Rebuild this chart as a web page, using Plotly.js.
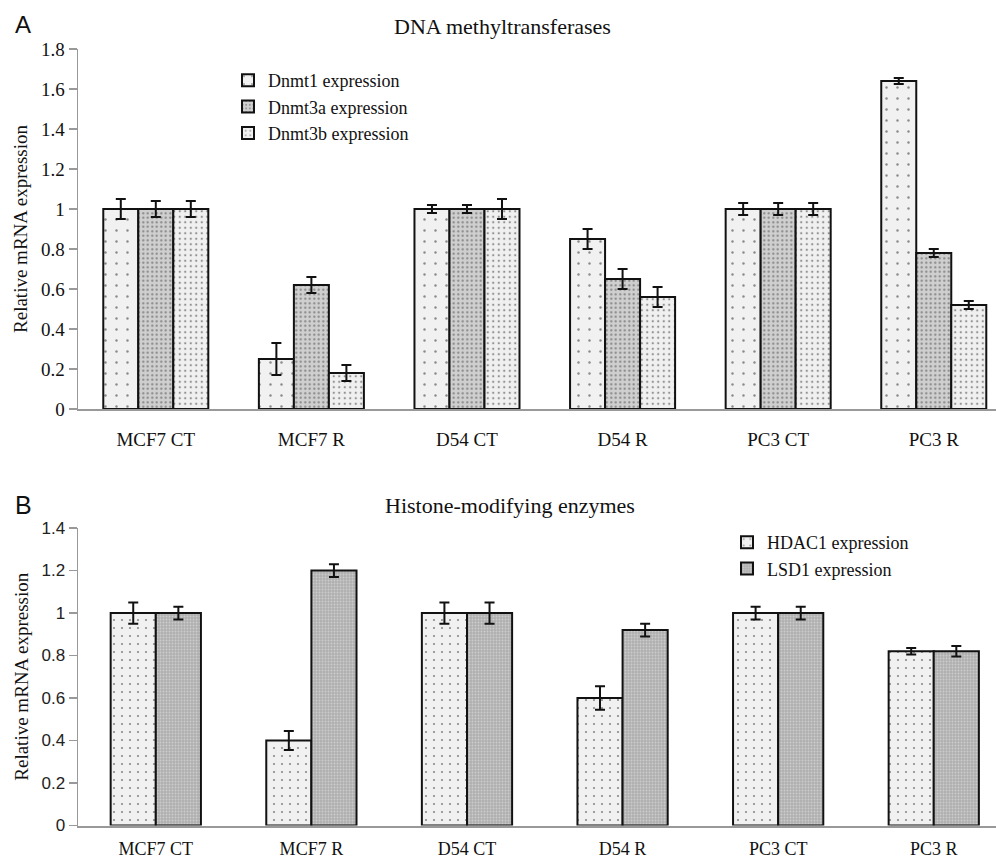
<!DOCTYPE html>
<html>
<head>
<meta charset="utf-8">
<script src="https://cdn.plot.ly/plotly-3.0.1.min.js"></script>
<style>html,body{margin:0;padding:0;background:#fff;}#chart{width:996px;height:861px;}</style>
</head>
<body>
<div id="chart"></div>
<script>
// ---- Data ----
const categories = ["MCF7 CT", "MCF7 R", "D54 CT", "D54 R", "PC3 CT", "PC3 R"];

// Panel A: DNA methyltransferases
const dnmt1 = [1.0, 0.25, 1.0, 0.85, 1.0, 1.64];
const dnmt1Err = [0.05, 0.08, 0.02, 0.05, 0.03, 0.015];
const dnmt3a = [1.0, 0.62, 1.0, 0.65, 1.0, 0.78];
const dnmt3aErr = [0.04, 0.04, 0.02, 0.05, 0.03, 0.02];
const dnmt3b = [1.0, 0.18, 1.0, 0.56, 1.0, 0.52];
const dnmt3bErr = [0.04, 0.04, 0.05, 0.05, 0.03, 0.02];

// Panel B: Histone-modifying enzymes
const hdac1 = [1.0, 0.40, 1.0, 0.60, 1.0, 0.82];
const hdac1Err = [0.05, 0.045, 0.05, 0.055, 0.03, 0.015];
const lsd1 = [1.0, 1.20, 1.0, 0.92, 1.0, 0.82];
const lsd1Err = [0.03, 0.03, 0.05, 0.03, 0.03, 0.025];

const yTicksA = [0, 0.2, 0.4, 0.6, 0.8, 1, 1.2, 1.4, 1.6, 1.8];
const yTicksB = [0, 0.2, 0.4, 0.6, 0.8, 1, 1.2, 1.4];

// ---- Styles ----
const SERIF = "Liberation Serif";
const SANS = "Liberation Sans";
const W = 996, H = 861;
const px = v => v / W;
const py = v => (H - v) / H;

function err(arr) {
  return {type: 'data', array: arr, visible: true, color: '#111', thickness: 2, width: 5};
}
function barTrace(name, y, e, pattern, xa, ya, legend, width, offset) {
  return {
    type: 'bar', name: name, x: categories, y: y,
    xaxis: xa, yaxis: ya, legend: legend,
    width: width, offset: offset,
    error_y: err(e),
    marker: {color: pattern.bgcolor, line: {color: '#111', width: 2}, pattern: pattern},
    hoverinfo: 'x+y'
  };
}

const wA = 0.225, wB = 0.29;
const traces = [
  barTrace('Dnmt1 expression', dnmt1, dnmt1Err,
    {shape: '.', fgcolor: '#222', bgcolor: '#f1f1f1', size: 11, solidity: 0.04, fillmode: 'overlay'}, 'x', 'y', 'legend', wA, -1.5 * wA),
  barTrace('Dnmt3a expression', dnmt3a, dnmt3aErr,
    {shape: '.', fgcolor: '#333', bgcolor: '#cfcfcf', size: 4.5, solidity: 0.18, fillmode: 'overlay'}, 'x', 'y', 'legend', wA, -0.5 * wA),
  barTrace('Dnmt3b expression', dnmt3b, dnmt3bErr,
    {shape: '.', fgcolor: '#333', bgcolor: '#f0f0f0', size: 5.5, solidity: 0.14, fillmode: 'overlay'}, 'x', 'y', 'legend', wA, 0.5 * wA),
  barTrace('HDAC1 expression', hdac1, hdac1Err,
    {shape: '.', fgcolor: '#222', bgcolor: '#f1f1f1', size: 8, solidity: 0.06, fillmode: 'overlay'}, 'x2', 'y2', 'legend2', wB, -wB),
  barTrace('LSD1 expression', lsd1, lsd1Err,
    {shape: '.', fgcolor: '#e8e8e8', bgcolor: '#b0b0b0', size: 3, solidity: 0.3, fillmode: 'overlay'}, 'x2', 'y2', 'legend2', wB, 0)
];

const xRange = [-0.5, 5.4];
const baseX = {
  type: 'category', range: xRange, domain: [px(78), 1],
  showline: true, linecolor: '#999', linewidth: 2,
  ticks: '', showgrid: false, zeroline: false,
  tickfont: {family: SERIF, size: 19, color: '#111'},
  fixedrange: true
};
const baseY = {
  showline: true, linecolor: '#999', linewidth: 1.5,
  ticks: 'outside', ticklen: 8, tickcolor: '#999', tickwidth: 1.5,
  showgrid: false, zeroline: false, fixedrange: true
};

const layout = {
  width: W, height: H,
  margin: {l: 0, r: 0, t: 0, b: 0},
  paper_bgcolor: '#fff', plot_bgcolor: '#fff',
  barmode: 'overlay',
  showlegend: true,
  xaxis: Object.assign({}, baseX, {anchor: 'y', ticklabelstandoff: 12}),
  yaxis: Object.assign({}, baseY, {
    anchor: 'x', domain: [py(409), py(49)], range: [0, 1.8],
    tickvals: yTicksA, ticktext: yTicksA.map(String),
    tickfont: {family: SERIF, size: 19, color: '#111'},
    title: {text: 'Relative mRNA expression', font: {family: SERIF, size: 19, color: '#111'}, standoff: 8}
  }),
  xaxis2: Object.assign({}, baseX, {anchor: 'y2', ticklabelstandoff: 6, tickfont: {family: SERIF, size: 18, color: '#111'}}),
  yaxis2: Object.assign({}, baseY, {
    anchor: 'x2', domain: [py(825.5), py(528)], range: [0, 1.4],
    tickvals: yTicksB, ticktext: yTicksB.map(String),
    tickfont: {family: SANS, size: 17, color: '#222'},
    title: {text: 'Relative mRNA expression', font: {family: SERIF, size: 19, color: '#111'}, standoff: 8}
  }),
  legend: {
    x: px(228), xanchor: 'left', y: py(62), yanchor: 'top',
    bgcolor: 'rgba(0,0,0,0)', font: {family: SERIF, size: 18, color: '#111'},
    itemwidth: 30, traceorder: 'normal'
  },
  legend2: {
    x: px(727), xanchor: 'left', y: py(524), yanchor: 'top',
    bgcolor: 'rgba(0,0,0,0)', font: {family: SERIF, size: 18, color: '#111'},
    itemwidth: 30, traceorder: 'normal'
  },
  annotations: [
    {text: 'DNA methyltransferases', x: px(502), y: py(27), xref: 'paper', yref: 'paper',
     showarrow: false, xanchor: 'center', yanchor: 'middle', font: {family: SERIF, size: 22, color: '#111'}},
    {text: 'Histone-modifying enzymes', x: px(510), y: py(505), xref: 'paper', yref: 'paper',
     showarrow: false, xanchor: 'center', yanchor: 'middle', font: {family: SERIF, size: 22, color: '#111'}},
    {text: 'A', x: px(23), y: py(25), xref: 'paper', yref: 'paper',
     showarrow: false, xanchor: 'center', yanchor: 'middle', font: {family: SANS, size: 24, color: '#111'}},
    {text: 'B', x: px(23), y: py(505), xref: 'paper', yref: 'paper',
     showarrow: false, xanchor: 'center', yanchor: 'middle', font: {family: SANS, size: 25, color: '#111'}}
  ]
};

Plotly.newPlot('chart', traces, layout, {staticPlot: true, displayModeBar: false});
</script>
</body>
</html>
